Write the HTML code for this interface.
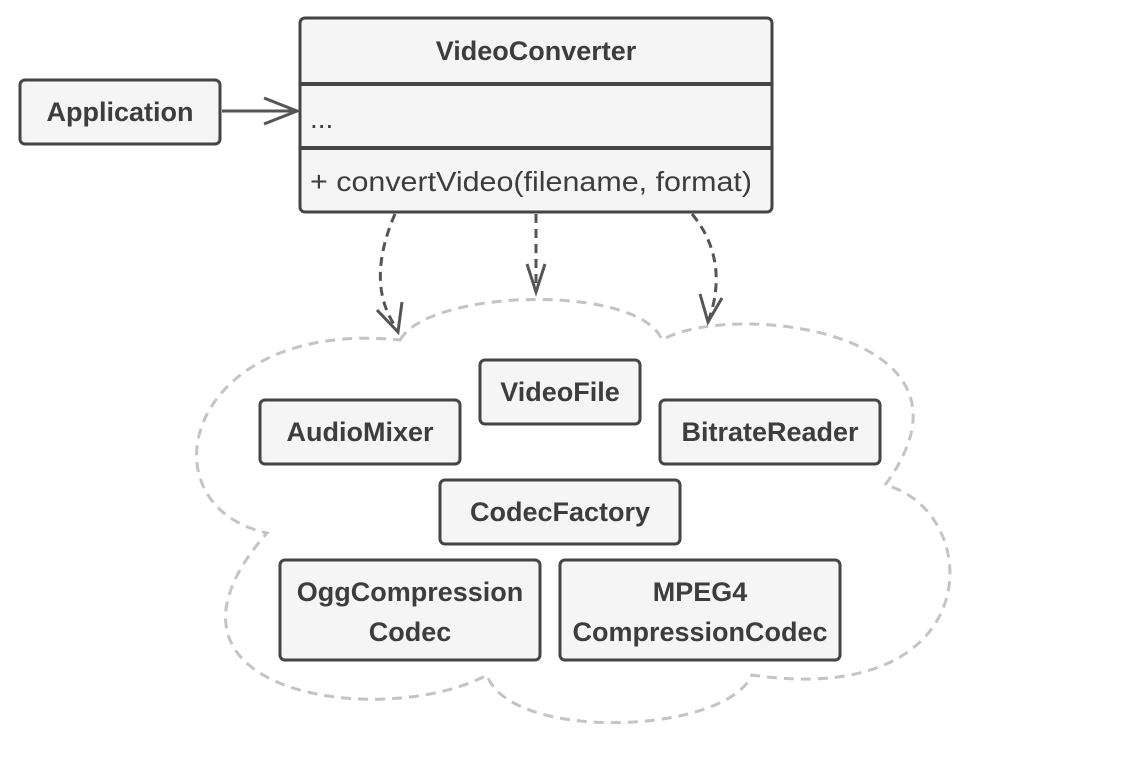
<!DOCTYPE html>
<html><head><meta charset="utf-8"><style>
html,body{margin:0;padding:0;background:#fff;}
svg text{font-family:"Liberation Sans",sans-serif;fill:#3d3d3d;}
.b{font-weight:bold;font-size:27px;}
.n{font-size:28px;}
</style></head><body>
<svg width="1140" height="760" viewBox="0 0 1140 760" xmlns="http://www.w3.org/2000/svg">
<path d="M400,340 C430,288 640,284 662,340 C730,300 1000,330 885,485 C985,510 990,710 752,675 C725,735 510,742 487,675 C385,730 125,695 267,533 C140,505 185,318 400,340 Z" fill="none" stroke="#c4c4c4" stroke-width="3" stroke-dasharray="10,7"/>
<g fill="#f5f5f5" stroke="#444" stroke-width="3">
<rect x="20" y="80" width="200" height="64" rx="5"/>
<rect x="300" y="18" width="472" height="194" rx="5"/>
<rect x="480" y="360" width="160" height="64" rx="5"/>
<rect x="260" y="400" width="200" height="64" rx="5"/>
<rect x="660" y="400" width="220" height="64" rx="5"/>
<rect x="440" y="480" width="240" height="64" rx="5"/>
<rect x="280" y="560" width="260" height="100" rx="5"/>
<rect x="560" y="560" width="280" height="100" rx="5"/>
</g>
<g stroke="#444" stroke-width="4"><line x1="300" y1="84" x2="772" y2="84"/><line x1="300" y1="148" x2="772" y2="148"/></g>
<g fill="none" stroke="#555" stroke-width="3">
<line x1="222" y1="111" x2="296" y2="111"/>
<path d="M264,98 L297,111 L264,124"/>
<g stroke-dasharray="9,6">
<path d="M395,214 C375,260 375,300 398,330"/>
<path d="M536,214 L536,290"/>
<path d="M692,214 C722,250 720,290 708,322"/>
</g>
<path d="M377,310 L398,332 L402,302"/>
<path d="M527,264 L536,292 L545,264"/>
<path d="M700,294 L708,322 L722,298"/>
</g>
<text class="b" x="120" y="121" text-anchor="middle">Application</text>
<text class="b" x="536" y="60" text-anchor="middle">VideoConverter</text>
<text class="n" x="310" y="128">...</text>
<text class="n" x="310" y="191" textLength="442" lengthAdjust="spacingAndGlyphs">+ convertVideo(filename, format)</text>
<text class="b" x="560" y="401" text-anchor="middle">VideoFile</text>
<text class="b" x="360" y="441" text-anchor="middle">AudioMixer</text>
<text class="b" x="770" y="441" text-anchor="middle">BitrateReader</text>
<text class="b" x="560" y="521" text-anchor="middle">CodecFactory</text>
<text class="b" x="410" y="601" text-anchor="middle">OggCompression</text>
<text class="b" x="410" y="641" text-anchor="middle">Codec</text>
<text class="b" x="700" y="601" text-anchor="middle">MPEG4</text>
<text class="b" x="700" y="641" text-anchor="middle">CompressionCodec</text>
</svg>
</body></html>
